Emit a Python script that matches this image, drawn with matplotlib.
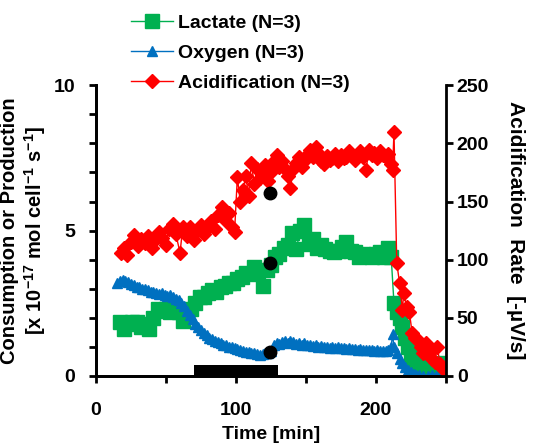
import matplotlib
matplotlib.use("Agg")
import matplotlib.pyplot as plt
from matplotlib.ticker import MultipleLocator, FuncFormatter

plt.rcParams['font.family'] = ['Liberation Sans', 'DejaVu Sans']
plt.rcParams['font.weight'] = 'bold'
plt.rcParams['mathtext.fontset'] = 'custom'
plt.rcParams['mathtext.rm'] = 'Liberation Sans:bold'
plt.rcParams['mathtext.bf'] = 'Liberation Sans:bold'

# lactate, left axis [x 10^-17 mol cell^-1 s^-1]
lac_t = [17, 20, 23, 26, 29, 32, 35, 38, 41, 44, 47, 50, 53, 56, 59, 62, 65, 68, 71, 74,
         77, 80, 83, 86, 89, 92, 95, 98, 101, 104, 107, 110, 113, 116, 119, 122, 125, 128,
         131, 134, 137, 140, 143, 146, 149, 152, 155, 158, 161, 164, 167, 170, 173, 176,
         179, 182, 185, 188, 191, 194, 197, 200, 203, 206, 209, 211, 213, 215, 217, 219,
         221, 223, 225, 227, 230, 233, 236, 240, 244, 248, 250]
lac_v = [1.85, 1.6, 1.8, 1.85, 1.85, 1.7, 1.8, 1.6, 2.0, 2.3, 2.25, 2.3, 2.2, 2.35, 2.2,
         1.9, 2.15, 2.3, 2.5, 2.7, 2.7, 2.85, 2.95, 2.9, 3.05, 3.1, 3.2, 3.2, 3.35, 3.4,
         3.55, 3.5, 3.75, 3.6, 3.1, 3.65, 3.8, 4.1, 4.2, 4.4, 4.5, 4.9, 4.35, 5.0, 5.2,
         4.55, 4.7, 4.4, 4.5, 4.35, 4.3, 4.25, 4.3, 4.45, 4.6, 4.3, 4.25, 4.1, 4.2, 4.15,
         4.1, 4.2, 4.25, 4.1, 4.4, 4.1, 2.5, 2.2, 2.0, 1.7, 1.3, 1.0, 0.7, 0.5, 0.4, 0.3,
         0.25, 0.3, 0.35, 0.45, 0.4]

# oxygen, left axis
oxy_t = [15, 17, 19, 21, 23, 25, 27, 29, 31, 33, 35, 37, 39, 41, 43, 45, 47, 49, 51, 53,
         55, 57, 59, 61, 63, 65, 67, 69, 71, 73, 75, 77, 79, 81, 83, 85, 87, 89, 91, 93,
         95, 97, 99, 101, 103, 105, 107, 109, 111, 113, 115, 117, 119, 121, 123, 125, 127,
         129, 131, 133, 135, 137, 139, 141, 143, 145, 147, 149, 151, 153, 155, 157, 159,
         161, 163, 165, 167, 169, 171, 173, 175, 177, 179, 181, 183, 185, 187, 189, 191,
         193, 195, 197, 199, 201, 203, 205, 207, 209, 211, 212, 213, 215, 217, 219, 221,
         223, 225, 227, 229, 231, 234, 237, 240, 243, 246, 249]
oxy_v = [3.2, 3.28, 3.3, 3.25, 3.22, 3.15, 3.12, 3.05, 3.05, 3.0, 2.98, 2.95, 2.9, 2.88,
         2.85, 2.82, 2.85, 2.78, 2.75, 2.8, 2.7, 2.65, 2.6, 2.5, 2.4, 2.25, 2.1, 1.95, 1.8,
         1.68, 1.58, 1.48, 1.4, 1.32, 1.28, 1.22, 1.18, 1.12, 1.08, 1.05, 1.0, 0.98, 0.95,
         0.92, 0.9, 0.87, 0.84, 0.82, 0.8, 0.78, 0.75, 0.73, 0.75, 0.78, 0.8, 0.85, 1.05,
         1.15, 1.1, 1.18, 1.2, 1.15, 1.22, 1.18, 1.1, 1.15, 1.08, 1.12, 1.05, 1.08, 1.02,
         1.05, 1.0, 1.03, 0.98, 1.0, 0.97, 0.98, 0.95, 0.98, 0.95, 0.96, 0.93, 0.95, 0.92,
         0.94, 0.9, 0.92, 0.9, 0.91, 0.88, 0.9, 0.87, 0.88, 0.86, 0.87, 0.85, 0.88, 1.0,
         1.45, 1.0, 0.8, 0.6, 0.45, 0.3, 0.2, 0.12, 0.06, 0.03, 0.02, 0.0, 0.0, 0.02, 0.0,
         0.05, 0.08]

# acidification, right axis [-uV/s]
acid_t = [18, 20, 22, 25, 27, 30, 32, 35, 37, 40, 42, 45, 47, 50, 52, 55, 57, 60, 62, 65,
          67, 70, 72, 75, 77, 80, 82, 85, 87, 90, 92, 95, 97, 99, 101, 103, 105, 107, 109,
          111, 113, 115, 117, 119, 121, 123, 125, 127, 129, 131, 133, 135, 137, 139, 141,
          143, 145, 147, 149, 151, 153, 155, 157, 159, 161, 163, 165, 167, 169, 171, 173,
          175, 177, 179, 181, 183, 185, 187, 189, 191, 193, 195, 197, 199, 201, 203, 205,
          207, 209, 211, 212, 213, 215, 217, 219, 220, 222, 224, 226, 228, 230, 232, 234,
          236, 238, 240, 242, 244, 246, 248, 250]
acid_v = [106, 110, 104, 115, 121, 112, 118, 114, 120, 110, 117, 124, 119, 113, 126, 131,
          122, 106, 128, 120, 128, 117, 125, 130, 122, 128, 133, 126, 138, 145, 134, 140,
          128, 124, 171, 150, 160, 172, 155, 183, 165, 178, 170, 175, 181, 168, 175, 185,
          190, 180, 185, 178, 172, 162, 178, 183, 188, 180, 185, 190, 194, 188, 197, 192,
          185, 182, 189, 186, 187, 191, 185, 190, 187, 188, 193, 190, 186, 191, 193, 188,
          177, 194, 190, 192, 187, 193, 190, 188, 191, 182, 177, 210, 97, 80, 57, 71, 59,
          55, 37, 33, 31, 25, 20, 28, 20, 15, 12, 25, 10, 6, 8]

# black markers at t = 124 min and the black bar on the time axis
dot_t = 124
dot_lac = 3.88
dot_oxy = 0.82
dot_acid = 157
bar_start = 70
bar_end = 130
bar_height = 0.38

fig = plt.figure(figsize=(5.37, 4.46), dpi=100)
ax = fig.add_axes([0.179, 0.157, 0.651, 0.652])
ax2 = ax.twinx()

l1, = ax.plot(lac_t, lac_v, color='#00B050', marker='s', markersize=10, linewidth=1,
              label='Lactate (N=3)')
l2, = ax.plot(oxy_t, oxy_v, color='#0070C0', marker='^', markersize=7, linewidth=1,
              label='Oxygen (N=3)')
l3, = ax2.plot(acid_t, acid_v, color='#FF0000', marker='D', markersize=7, linewidth=1,
               label='Acidification (N=3)')

ax.bar(bar_start, bar_height, width=bar_end - bar_start, align='edge', color='black', zorder=5)
ax.plot([dot_t, dot_t], [dot_lac, dot_oxy], linestyle='none', marker='o', markersize=9,
        color='black', zorder=6)
ax2.plot([dot_t], [dot_acid], linestyle='none', marker='o', markersize=9, color='black', zorder=6)

ax.set_xlim(0, 250)
ax.set_ylim(0, 10)
ax2.set_ylim(0, 250)

ax.xaxis.set_major_locator(MultipleLocator(50))
ax.xaxis.set_major_formatter(FuncFormatter(lambda v, p: f'{v:.0f}' if v % 100 == 0 else ''))
ax.yaxis.set_major_locator(MultipleLocator(1))
ax.yaxis.set_major_formatter(FuncFormatter(lambda v, p: f'{v:.0f}' if v % 5 == 0 else ''))
ax2.yaxis.set_major_locator(MultipleLocator(50))

for a in (ax, ax2):
    for s in a.spines.values():
        s.set_linewidth(2)
    a.spines['top'].set_visible(False)
ax.spines['right'].set_visible(False)

ax.tick_params(axis='both', direction='out', length=5, width=2, labelsize=14)
ax.tick_params(axis='y', pad=10)
ax.tick_params(axis='x', pad=14)
ax2.tick_params(axis='y', direction='out', length=5, width=2, labelsize=14, pad=3)

ax.set_xlabel('Time [min]', fontsize=14, fontweight='bold', labelpad=5)
ax.set_ylabel('Consumption or Production\n[x 10$^{-17}$ mol cell$^{-1}$ s$^{-1}$]',
              fontsize=14.5, fontweight='bold', linespacing=1.15, labelpad=4)
ax2.set_ylabel('Acidification  Rate  [-µV/s]', fontsize=15, fontweight='bold',
               rotation=-90, labelpad=26)

fig.legend(handles=[l1, l2, l3], loc='upper left', bbox_to_anchor=(0.225, 0.99),
           frameon=False, fontsize=14, handlelength=2.2, handletextpad=0.25,
           labelspacing=0.65, borderpad=0)

fig.savefig('out.png', dpi=100)
